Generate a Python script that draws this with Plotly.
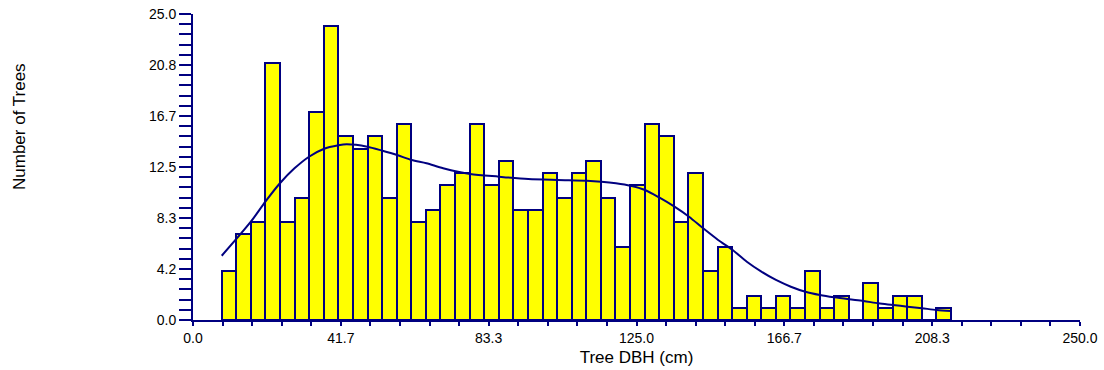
import plotly.graph_objects as go

# Histogram data: counts of trees per DBH class
bin_start = 8.1      # cm, left edge of first class
bin_width = 4.11     # cm, class width
counts = [4, 7, 8, 21, 8, 10, 17, 24, 15, 14,
          15, 10, 16, 8, 9, 11, 12, 16, 11, 13,
          9, 9, 12, 10, 12, 13, 10, 6, 11, 16,
          15, 8, 12, 4, 6, 1, 2, 1, 2, 1,
          4, 1, 2, 0, 3, 1, 2, 2, 0, 1]

# Smoothed fitted curve
curve_x = [8.1, 16.3, 20.4, 24.5, 28.6, 32.7, 36.8, 41.0, 43.3, 49.1,
           53.4, 57.5, 61.6, 65.8, 70.5, 78.1, 86.2, 94.5, 102.7, 111.0,
           115.1, 119.2, 123.3, 127.4, 131.5, 135.7, 139.8, 143.8, 148.0, 152.1,
           156.1, 160.2, 164.3, 168.5, 172.6, 176.7, 180.7, 184.9, 189.0, 193.2,
           197.3, 201.4, 205.5, 209.6, 213.6]
curve_y = [5.25, 8.03, 9.67, 11.17, 12.39, 13.34, 13.97, 14.27, 14.35, 14.16,
           13.83, 13.48, 13.07, 12.80, 12.40, 11.93, 11.71, 11.52, 11.44, 11.38,
           11.30, 11.17, 10.97, 10.62, 9.99, 9.26, 8.44, 7.49, 6.54, 5.72,
           4.76, 3.95, 3.27, 2.72, 2.31, 2.04, 1.85, 1.69, 1.55, 1.36,
           1.23, 1.09, 0.96, 0.82, 0.74]

x_range = [0, 250]
y_range = [0, 25]
x_title = "Tree DBH (cm)"
y_title = "Number of Trees"

NAVY = "#000080"
FONT = "Liberation Sans, Arial, sans-serif"

bin_centers = [bin_start + bin_width * (i + 0.5) for i in range(len(counts))]

fig = go.Figure()
fig.add_trace(go.Bar(
    x=bin_centers, y=counts, width=bin_width,
    marker=dict(color="#FFFF00", line=dict(color=NAVY, width=2)),
    showlegend=False, hoverinfo="x+y",
))
fig.add_trace(go.Scatter(
    x=curve_x, y=curve_y, mode="lines",
    line=dict(color=NAVY, width=2, shape="spline", smoothing=0.8),
    showlegend=False,
))

L, R, T, B = 193, 24, 14, 50
W, H = 1104, 370
plot_w = W - L - R
plot_h = H - T - B

fig.update_layout(
    width=W, height=H,
    margin=dict(l=L, r=R, t=T, b=B, pad=0, autoexpand=False),
    paper_bgcolor="white", plot_bgcolor="white",
    font=dict(family=FONT, size=14, color="#000000"),
    bargap=0,
    xaxis=dict(
        range=x_range, showgrid=False, zeroline=False, automargin=False,
        showline=True, linecolor=NAVY, linewidth=2,
        ticks="outside", ticklen=4, tickwidth=2, tickcolor=NAVY,
        tick0=0, dtick=(x_range[1] - x_range[0]) / 6, tickformat=".1f",
        tickfont=dict(size=14, family=FONT),
        minor=dict(ticks="outside", ticklen=4, tickwidth=2, tickcolor=NAVY,
                   dtick=(x_range[1] - x_range[0]) / 30, showgrid=False),
        title=dict(text=x_title, font=dict(size=17, family=FONT), standoff=6),
        fixedrange=True,
    ),
    yaxis=dict(
        range=y_range, showgrid=False, zeroline=False, automargin=False,
        showline=True, linecolor=NAVY, linewidth=2,
        ticks="outside", ticklen=12, tickwidth=2, tickcolor=NAVY,
        tick0=0, dtick=(y_range[1] - y_range[0]) / 6, tickformat=".1f",
        tickfont=dict(size=14, family=FONT),
        minor=dict(ticks="outside", ticklen=12, tickwidth=2, tickcolor=NAVY,
                   dtick=(y_range[1] - y_range[0]) / 30, showgrid=False),
        fixedrange=True,
    ),
    annotations=[dict(
        text=y_title, textangle=-90, showarrow=False,
        xref="paper", yref="paper",
        x=(19 - L) / plot_w, y=(H - B - 127) / plot_h,
        xanchor="center", yanchor="middle",
        font=dict(size=17, family=FONT, color="#000000"),
    )],
)

fig.write_html("out.html")
